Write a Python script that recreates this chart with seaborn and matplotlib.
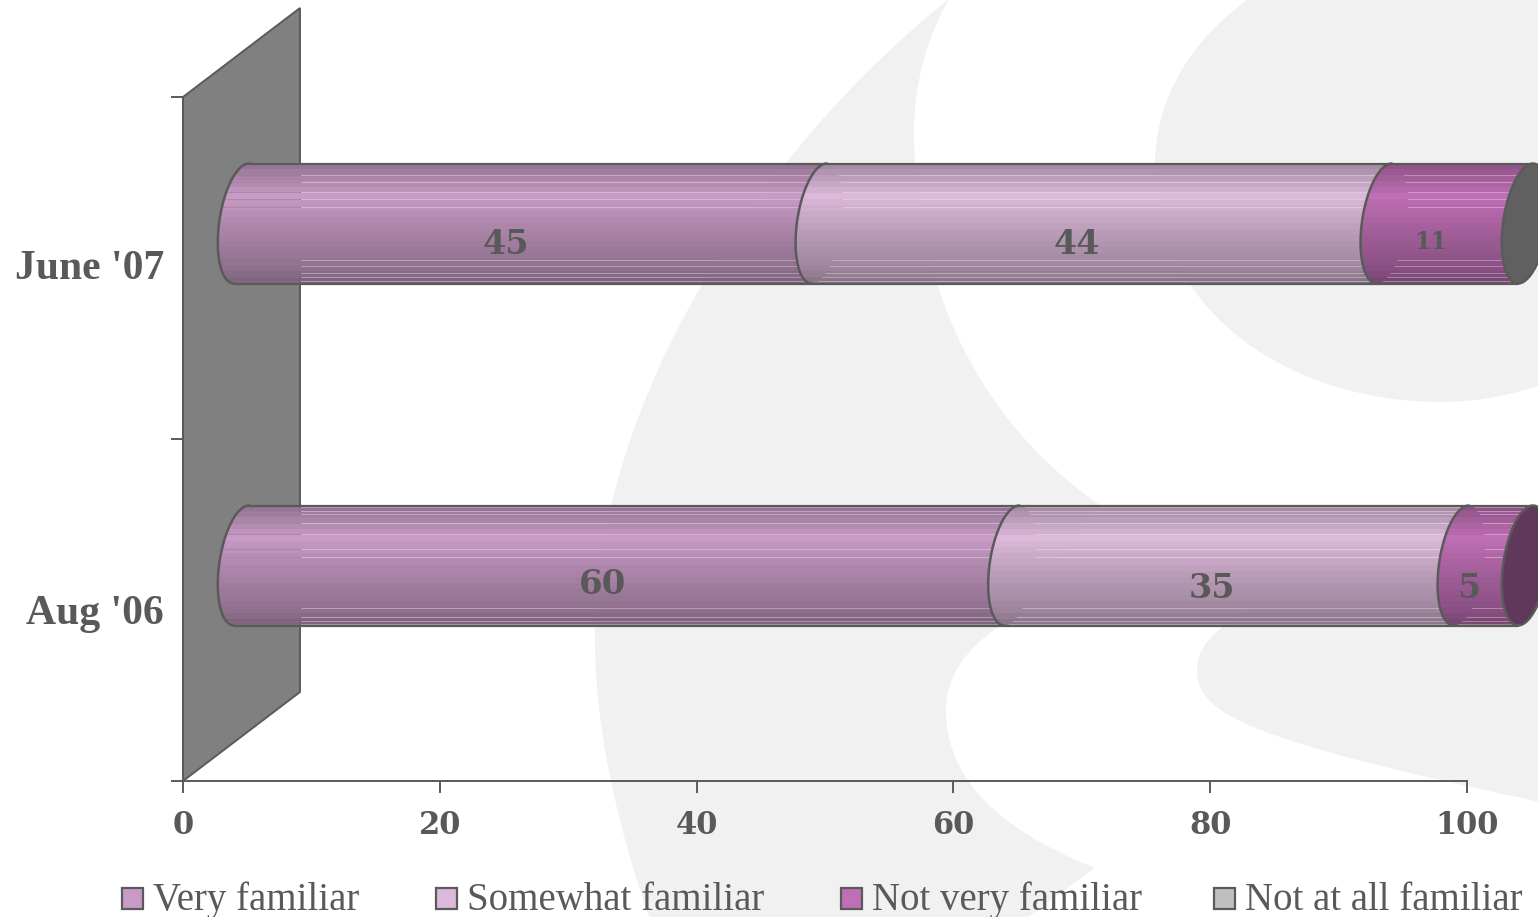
import numpy as np
import pandas as pd
import seaborn as sns
import matplotlib.pyplot as plt
from matplotlib.patches import PathPatch, Polygon, Rectangle
from matplotlib.path import Path
from matplotlib.transforms import IdentityTransform
from matplotlib.colors import to_rgb

# Data
periods = ["June '07", "Aug '06"]
series = ['Very familiar', 'Somewhat familiar', 'Not very familiar', 'Not at all familiar']
very_familiar = [45, 60]
somewhat_familiar = [44, 35]
not_very_familiar = [11, 5]
not_at_all_familiar = [1, 0]
x_ticks = [0, 20, 40, 60, 80, 100]
colors = ['#c89bc6', '#dcb9da', '#bf6fb5', '#bfbfbf']
values = [very_familiar, somewhat_familiar, not_very_familiar, not_at_all_familiar]

W, H = 1538, 917
TEXT = '#595959'
LINE = '#5a5a5a'
SERIF = ['Liberation Serif', 'DejaVu Serif']
NUMS = ['DejaVu Serif']
DEPTH = (117, 89)  # depth of the 3d wall in pixels
ELL_A, ELL_SKEW = 22.5, 7.5  # half width and skew of the bar ends
STRIPES = {"June '07": [12, 19, 29, 36, 44, 97, 103, 110, 114, 118],
           "Aug '06": [2, 6, 9, 18, 29, 44, 52, 103, 112, 116, 119]}

sns.set_theme(style='white')
plt.rcParams['font.family'] = SERIF

rows = []
for i, p in enumerate(periods):
    total = 0
    for s, v in zip(series, values):
        total += v[i]
        rows.append({'period': p, 'series': s, 'value': v[i], 'cum': min(total, 100)})
df = pd.DataFrame(rows)

fig = plt.figure(figsize=(W / 100, H / 100), dpi=100, facecolor='white')
ax = fig.add_axes([183 / W, 1 - 781 / H, (1467 - 183) / W, (781 - 97) / H])
ax.patch.set_alpha(0)


def bg_shape(verts, codes):
    # pixel coords from the top left, like the reference
    pts = [(x, H - y) for x, y in verts]
    fig.add_artist(PathPatch(Path(pts, codes), fc='#f1f1f1', ec='none',
                             transform=IdentityTransform(), zorder=-5))


M, C, L, Z = Path.MOVETO, Path.CURVE4, Path.LINETO, Path.CLOSEPOLY
bg_shape([(950, -2), (760, 150), (595, 400), (595, 640), (595, 740), (625, 850), (650, 919),
          (1025, 919), (1095, 868),
          (1000, 830), (946, 780), (946, 710), (946, 670), (975, 640), (1010, 620),
          (1100, 505),
          (990, 430), (914, 300), (914, 130), (914, 80), (930, 30), (950, -2), (950, -2)],
         [M, C, C, C, C, C, C, L, L, C, C, C, C, C, C, L, C, C, C, C, C, C, Z])
bg_shape([(1250, -2), (1190, 40), (1155, 100), (1155, 165), (1155, 320), (1300, 402), (1440, 402),
          (1480, 402), (1510, 395), (1540, 385), (1540, -2), (1250, -2)],
         [M, C, C, C, C, C, C, C, C, L, L, Z])
bg_shape([(1260, 600), (1225, 625), (1197, 640), (1197, 670), (1197, 715), (1250, 740), (1540, 802),
          (1540, 600), (1260, 600)],
         [M, C, C, C, C, C, C, L, Z])

# cumulative bars, longest first, so every segment comes from seaborn's own scale
for s, c in reversed(list(zip(series, colors))):
    sns.barplot(data=df[df['series'] == s], y='period', x='cum', order=periods, color=c,
                width=120 / 342, ax=ax, zorder=3, errorbar=None)

# seaborn's rectangles give the geometry for the cylinders below
bars = {}
bar_patches = list(ax.patches)
k = 0
for s in reversed(series):
    for p in periods:
        bars[(s, p)] = bar_patches[k]
        bar_patches[k].set_visible(False)
        k += 1

ax.set_xlim(0, 100)
ax.set_ylim(1.5, -0.5)
ax.autoscale(False)
ax.set_xlabel('')
ax.set_ylabel('')
ax.set_xticks(x_ticks)
ax.set_yticks([-0.5, 0.5, 1.5])
ax.set_yticklabels([])
ax.set_xticklabels(x_ticks, fontsize=22, fontweight='bold', color=TEXT, family=NUMS)
ax.tick_params(axis='x', direction='out', length=8.6, width=1.4, color=LINE, pad=12, bottom=True)
ax.tick_params(axis='y', direction='out', length=8.6, width=1.4, color=LINE, left=True)
for side in ['top', 'right']:
    ax.spines[side].set_visible(False)
for side in ['left', 'bottom']:
    ax.spines[side].set_color(LINE)
    ax.spines[side].set_linewidth(1.4)
for i, p in enumerate(periods):
    ax.annotate(p, (0, i), xytext=(-19, [-1, -4][i]), textcoords='offset pixels', ha='right', va='center',
                fontsize=30, fontweight='bold', color=TEXT, annotation_clip=False)


def px(x, cat):
    return ax.transData.transform((x, cat))


# grey wall
w0, w1 = px(0, 1.5), px(0, -0.5)
wall = [w0, w1, (w1[0] + DEPTH[0], w1[1] + DEPTH[1]), (w0[0] + DEPTH[0], w0[1] + DEPTH[1])]
ax.add_patch(Polygon(wall, closed=True, fc='#808080', ec=LINE, lw=1.4,
                     transform=IdentityTransform(), clip_on=False, zorder=1))


def shade_rows(color, n, stripes):
    # stepped top to bottom shading, some rows are see through like in the original
    base = np.array(to_rgb(color))
    t = (np.arange(n) // 6 * 6) / n
    f = np.interp(t, [0, 0.25, 0.5, 0.85, 1], [0.76, 1.0, 0.87, 0.72, 0.6])
    img = np.ones((n, 1, 4))
    img[:, 0, :3] = base * f[:, None]
    for r in stripes:
        if r < n:
            img[r, 0, 3] = 0.65
    return img


def ell(cx, cy, t):
    # end of the cylinder, y up
    return np.c_[cx + ELL_A * np.cos(t) + ELL_SKEW * np.sin(t), cy + 60 * np.sin(t)]


def gradient(verts, color, box, z, stripes):
    clip = Polygon(verts, closed=True, transform=IdentityTransform(), fc='none', ec='none', clip_on=False)
    ax.add_patch(clip)
    x0, x1, y0, y1 = box
    im = ax.imshow(shade_rows(color, int(y1 - y0), stripes), extent=(x0, x1, y0, y1), origin='upper',
                   aspect='auto', transform=IdentityTransform(), interpolation='nearest', zorder=z)
    im.set_clip_box(fig.bbox)
    im.set_clip_path(clip)


dx, dy = DEPTH[0] / 2, DEPTH[1] / 2
z = 5
left_t = np.linspace(np.pi / 2, 3 * np.pi / 2, 40)
right_t = np.linspace(3 * np.pi / 2, np.pi / 2 + 2 * np.pi, 40)
full_t = np.linspace(0, 2 * np.pi, 60)
for i, p in enumerate(periods):
    start = 0.0
    last_color = colors[0]
    for j, (s, c) in enumerate(zip(series, colors)):
        b = bars[(s, p)]
        end = b.get_x() + b.get_width()
        cat = b.get_y() + b.get_height() / 2
        cx0, cy = px(start, cat) + (dx, dy)
        cx1 = px(end, cat)[0] + dx
        if end > start:
            box = (cx0 - 30, cx1 + 30, cy - 60, cy + 60)
            gradient(np.r_[ell(cx0, cy, left_t), ell(cx1, cy, right_t)], c, box, z, STRIPES[p])
            # the start of a later segment has no stripes
            if start > 0:
                gradient(ell(cx0, cy, full_t), c, (cx0 - 30, cx0 + 30, cy - 60, cy + 60), z + 1, [])
            arc = ell(cx0, cy, left_t)
            ax.plot(arc[:, 0], arc[:, 1], color=LINE, lw=1.8, transform=IdentityTransform(),
                    clip_on=False, zorder=z + 3)
            last_color = c
            z += 0.01
        start = end
    # the far end takes the colour of the last series that has a value
    cap_c = colors[-1] if not_at_all_familiar[i] > 0 else last_color
    ax.add_patch(Polygon(ell(cx1, cy, full_t), closed=True, fc=np.array(to_rgb(cap_c)) * 0.5,
                         ec=LINE, lw=1.8, transform=IdentityTransform(), clip_on=False, zorder=z + 6))
    cx_first = px(0, cat)[0] + dx
    for sgn in [1, -1]:
        ax.plot([cx_first + sgn * ELL_SKEW, cx1 + sgn * ELL_SKEW], [cy + sgn * 60, cy + sgn * 60], color=LINE,
                lw=1.6, transform=IdentityTransform(), clip_on=False, zorder=z + 3)

# value labels
label_dy = {"June '07": [-23, -23, -26, -26], "Aug '06": [-26, -21, -21, 0]}
label_size = {"June '07": [24, 24, 17, 17], "Aug '06": [24.5, 24, 24, 24]}
for i, p in enumerate(periods):
    left = 0
    for j, vals in enumerate(values):
        v = vals[i]
        if v > 0:
            ax.annotate(str(v), (left + v / 2, i), xytext=(34, -label_dy[p][j]), textcoords='offset pixels',
                        ha='center', va='center', fontsize=label_size[p][j], fontweight='bold', color=TEXT,
                        family=NUMS, annotation_clip=False, zorder=7)
        left += v

# legend
leg_box = [122, 436, 841, 1214]
for x, s, c in zip(leg_box, series, colors):
    ax.add_patch(Rectangle((x, H - 909), 21, 21, fc=c, ec=LINE, lw=1.6, transform=IdentityTransform(), clip_on=False))
    fig.text((x + 31) / W, 1 - 910 / H, s, fontsize=28, color=TEXT, va='baseline', ha='left')

fig.savefig('out.png', dpi=100)
